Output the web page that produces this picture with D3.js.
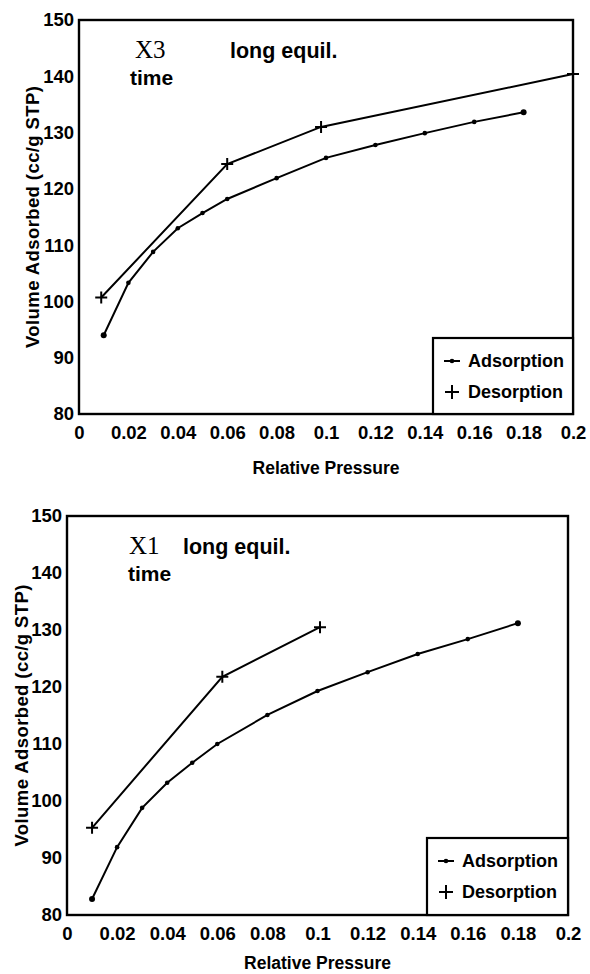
<!DOCTYPE html>
<html>
<head>
<meta charset="utf-8">
<script src="https://cdn.jsdelivr.net/npm/d3@7"></script>
<style>
  body { margin: 0; background: #fff; }
  svg { display: block; }
  text { font-family: "Liberation Sans", Arial, sans-serif; font-weight: bold; fill: #000; }
</style>
</head>
<body>
<div id="chart"></div>
<script>
// axis ticks shared by both panels
const pressureTicks = [0, 0.02, 0.04, 0.06, 0.08, 0.1, 0.12, 0.14, 0.16, 0.18, 0.2];
const volumeTicks = [80, 90, 100, 110, 120, 130, 140, 150];
const seriesNames = ["Adsorption", "Desorption"];

// X3 sample
const x3AdsPressure = [0.01, 0.02, 0.03, 0.04, 0.05, 0.06, 0.08, 0.1, 0.12, 0.14, 0.16, 0.18];
const x3AdsVolume = [94.0, 103.3, 108.8, 113.0, 115.7, 118.2, 121.9, 125.5, 127.8, 129.9, 131.9, 133.6];
const x3DesPressure = [0.009, 0.06, 0.098, 0.2];
const x3DesVolume = [100.7, 124.4, 131.0, 140.4];

// X1 sample
const x1AdsPressure = [0.01, 0.02, 0.03, 0.04, 0.05, 0.06, 0.08, 0.1, 0.12, 0.14, 0.16, 0.18];
const x1AdsVolume = [82.8, 91.9, 98.8, 103.2, 106.7, 110.0, 115.1, 119.3, 122.6, 125.8, 128.4, 131.2];
const x1DesPressure = [0.01, 0.062, 0.101];
const x1DesVolume = [95.3, 121.8, 130.5];

const width = 590, height = 974;

const svg = d3.select("#chart")
    .append("svg")
    .attr("width", width)
    .attr("height", height);

const fmt = d => String(+d.toFixed(2));

function drawPanel(cfg) {
    const x = d3.scaleLinear().domain([0, 0.2]).range([cfg.left, cfg.right]);
    const y = d3.scaleLinear().domain([80, 150]).range([cfg.bottom, cfg.top]);

    const g = svg.append("g");

    // X axis labels
    const xAxis = g.append("g")
        .attr("transform", "translate(0," + cfg.bottom + ")")
        .call(d3.axisBottom(x).tickValues(pressureTicks).tickFormat(fmt).tickSize(0).tickPadding(12));
    xAxis.select(".domain").remove();
    xAxis.selectAll("text").style("font-size", "18.5px").style("font-family", null);

    // Y axis labels
    const yAxis = g.append("g")
        .attr("transform", "translate(" + cfg.left + ",0)")
        .call(d3.axisLeft(y).tickValues(volumeTicks).tickSize(0).tickPadding(5));
    yAxis.select(".domain").remove();
    yAxis.selectAll("text").style("font-size", "18.5px").style("font-family", null);

    // frame
    g.append("rect")
        .attr("x", cfg.left)
        .attr("y", cfg.top)
        .attr("width", cfg.right - cfg.left)
        .attr("height", cfg.bottom - cfg.top)
        .attr("fill", "none")
        .attr("stroke", "#000")
        .attr("stroke-width", 2.4);

    const line = d3.line().x(d => x(d[0])).y(d => y(d[1]));
    const ads = d3.zip(cfg.adsX, cfg.adsY);
    const des = d3.zip(cfg.desX, cfg.desY);

    g.append("path").datum(ads)
        .attr("d", line).attr("fill", "none").attr("stroke", "#000").attr("stroke-width", 2);
    g.append("path").datum(des)
        .attr("d", line).attr("fill", "none").attr("stroke", "#000").attr("stroke-width", 2);

    // adsorption dots
    g.selectAll(".dot").data(ads).enter()
        .append("circle")
        .attr("cx", d => x(d[0]))
        .attr("cy", d => y(d[1]))
        .attr("r", (d, i) => (i === 0 || i === ads.length - 1) ? 3 : 2.3)
        .attr("fill", "#000");

    // desorption crosses
    g.selectAll(".cross").data(des).enter()
        .append("path")
        .attr("d", d => {
            const cx = x(d[0]), cy = y(d[1]), s = 6;
            return "M" + (cx - s) + "," + cy + "H" + (cx + s) + "M" + cx + "," + (cy - s) + "V" + (cy + s);
        })
        .attr("stroke", "#000")
        .attr("stroke-width", 2);

    // annotations
    g.append("text")
        .attr("x", cfg.tagX).attr("y", cfg.tagY)
        .style("font-family", "'Liberation Serif', 'Times New Roman', serif")
        .style("font-weight", "normal")
        .style("font-size", "25px")
        .text(cfg.tag);
    g.append("text")
        .attr("x", cfg.timeX).attr("y", cfg.timeY)
        .style("font-size", "21px")
        .text("time");
    g.append("text")
        .attr("x", cfg.equilX).attr("y", cfg.equilY)
        .style("font-size", "21.5px")
        .text("long equil.");

    // axis titles
    g.append("text")
        .attr("x", (cfg.left + cfg.right) / 2)
        .attr("y", cfg.bottom + cfg.xlabGap)
        .attr("text-anchor", "middle")
        .style("font-size", "17.5px")
        .text("Relative Pressure");
    g.append("text")
        .attr("transform", "translate(" + cfg.ylabX + "," + ((cfg.top + cfg.bottom) / 2) + ")rotate(-90)")
        .attr("text-anchor", "middle")
        .attr("textLength", 262)
        .attr("lengthAdjust", "spacing")
        .style("font-size", "18.5px")
        .text("Volume Adsorbed (cc/g STP)");

    // legend
    const lg = g.append("g");
    lg.append("rect")
        .attr("x", cfg.legX)
        .attr("y", cfg.legY)
        .attr("width", cfg.right - cfg.legX)
        .attr("height", cfg.bottom - cfg.legY)
        .attr("fill", "#fff")
        .attr("stroke", "#000")
        .attr("stroke-width", 2.2);
    seriesNames.forEach((name, i) => {
        const cy = cfg.legY + 23 + i * 31;
        const mx = cfg.legX + 19;
        if (i === 0) {
            lg.append("line").attr("x1", mx - 8).attr("x2", mx + 8).attr("y1", cy).attr("y2", cy)
                .attr("stroke", "#000").attr("stroke-width", 2);
            lg.append("circle").attr("cx", mx).attr("cy", cy).attr("r", 2.3).attr("fill", "#000");
        } else {
            lg.append("path")
                .attr("d", "M" + (mx - 7) + "," + cy + "H" + (mx + 7) + "M" + mx + "," + (cy - 7) + "V" + (cy + 7))
                .attr("stroke", "#000").attr("stroke-width", 2);
        }
        lg.append("text")
            .attr("x", cfg.legX + 35)
            .attr("y", cy)
            .attr("dy", "0.35em")
            .style("font-size", "18px")
            .text(name);
    });
}

drawPanel({
    left: 79, right: 573, top: 20, bottom: 414,
    adsX: x3AdsPressure, adsY: x3AdsVolume, desX: x3DesPressure, desY: x3DesVolume,
    tag: "X3", tagX: 135, tagY: 58, timeX: 130, timeY: 85, equilX: 230, equilY: 58,
    ylabX: 39, legX: 433, legY: 338, xlabGap: 60
});

drawPanel({
    left: 67, right: 568, top: 516, bottom: 915,
    adsX: x1AdsPressure, adsY: x1AdsVolume, desX: x1DesPressure, desY: x1DesVolume,
    tag: "X1", tagX: 129, tagY: 554, timeX: 128, timeY: 581, equilX: 183, equilY: 554,
    ylabX: 28, legX: 427, legY: 838, xlabGap: 54
});
</script>
</body>
</html>
